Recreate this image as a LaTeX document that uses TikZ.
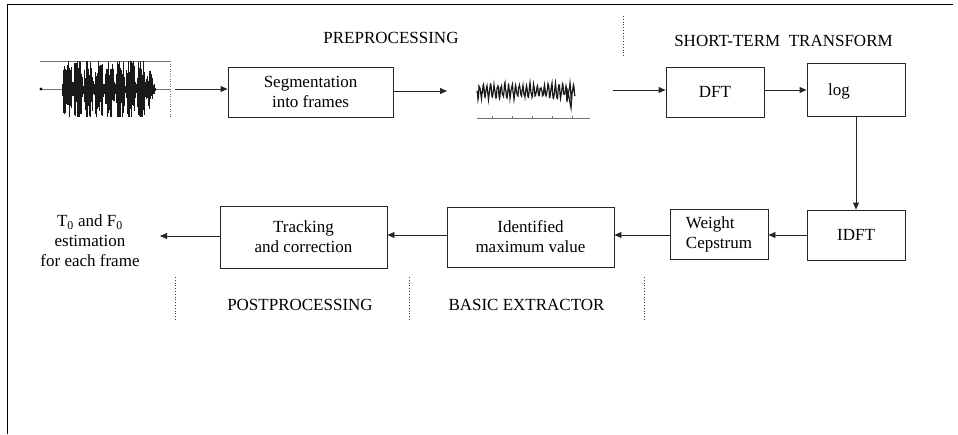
\documentclass[tikz,border=0pt]{standalone}
\usepackage{fontspec}
\setmainfont{Liberation Serif}
\usetikzlibrary{arrows.meta,calc}
\begin{document}
\begin{tikzpicture}[x=1pt,y=-1pt,
  blk/.style={draw=black!85, line width=0.9pt, inner sep=0pt, font=\fontsize{17}{20}\selectfont, align=center},
  lbl/.style={font=\fontsize{17}{20}\selectfont, inner sep=0pt},
  arr/.style={draw=black!85, line width=0.9pt, -{Triangle[length=7pt,width=6pt]}},
  sepline/.style={draw=black!75, line width=0.8pt, dotted},
  wave/.style={draw=black!90, line width=1pt},
  thin/.style={draw=black!55, line width=0.5pt}]
\useasboundingbox (0,0) rectangle (958,434);
\draw[line width=1.5pt] (7.5,434) -- (7.5,4.5) -- (953,4.5);

% speech waveform
\draw[thin] (40,61) -- (170,61);
\draw[thin] (40,89) -- (170,89);
\draw[thin, dotted] (170,61) -- (170,117);
\fill[black] (41,89) circle (1.6);
\pgfmathsetseed{7}
\foreach \i in {0,...,155} {
  \pgfmathsetmacro\xx{62+\i*0.6}
  \pgfmathsetmacro\env{min(1,0.08+1.3*abs(sin((\xx-62)*17)))*min(1,(156-\xx)/10)}
  \pgfmathsetmacro\au{min(28,28*\env*(0.4+0.8*rnd))}
  \pgfmathsetmacro\ad{min(28,28*\env*(0.4+0.8*rnd))}
  \draw[wave] (\xx,89-\au) -- (\xx,89+\ad);
}

% frames waveform
\draw[thin] (477,118) -- (590,118);
\foreach \t in {492,512,532,552,572} { \draw[thin] (\t,118) -- (\t,116); }
\draw[black!90, line width=1.2pt] plot[domain=477:575, samples=197] (\x,{91+6*sin((\x-477)*100)+3*rand});
\draw[black!90, line width=1.2pt] (566,88) -- (567,102) -- (568,92) -- (571,108) -- (572,95);

% boxes
\node[blk, minimum width=165, minimum height=50] (seg) at (310.5,92) {Segmentation\\into frames};
\node[blk, minimum width=98, minimum height=50] (dft) at (715,92) {DFT};
\node[blk, minimum width=98, minimum height=53] (log) at (856,89.5) {};
\node[lbl] (logtxt) at (839,91) {log};
\node[blk, minimum width=98, minimum height=50] (idft) at (856,235) {IDFT};
\node[blk, minimum width=98, minimum height=50, align=left] (wc) at (719,234) {Weight\\Cepstrum};
\node[blk, minimum width=167, minimum height=60] (idm) at (530.5,237) {Identified\\maximum value};
\node[blk, minimum width=167, minimum height=62] (trk) at (303.5,237) {Tracking\\and correction};
\node[lbl, align=center] (out) at (90,241) {T\textsubscript{0} and F\textsubscript{0}\\estimation\\for each frame};

% labels
\node[lbl] (pre) at (391,37.5) {PREPROCESSING};
\node[lbl] (stt) at (783.5,41) {SHORT-TERM~~TRANSFORM};
\node[lbl] (post) at (300,305) {POSTPROCESSING};
\node[lbl] (basic) at (526.5,305) {BASIC EXTRACTOR};

% separators
\draw[sepline] (623,16) -- (623,57);
\draw[sepline] (175,277) -- (175,320);
\draw[sepline] (409,277) -- (409,320);
\draw[sepline] (644,277) -- (644,320);

% connectors
\coordinate (w1) at (175,89);
\coordinate (f1) at (447,91);
\coordinate (f2) at (613,90);
\coordinate (ya) at (0,90);
\coordinate (yb) at (0,235);
\coordinate (o1) at (160,236);
\draw[arr] (w1) -- (w1 -| seg.west);
\draw[arr] (seg.east |- f1) -- (f1);
\draw[arr] (f2) -- (f2 -| dft.west);
\draw[arr] (dft.east |- ya) -- (log.west |- ya);
\draw[arr] (log.south) -- (idft.north);
\draw[arr] (idft.west |- yb) -- (wc.east |- yb);
\draw[arr] (wc.west |- yb) -- (idm.east |- yb);
\draw[arr] (idm.west |- yb) -- (trk.east |- yb);
\draw[arr] (trk.west |- o1) -- (o1);
\end{tikzpicture}
\end{document}
